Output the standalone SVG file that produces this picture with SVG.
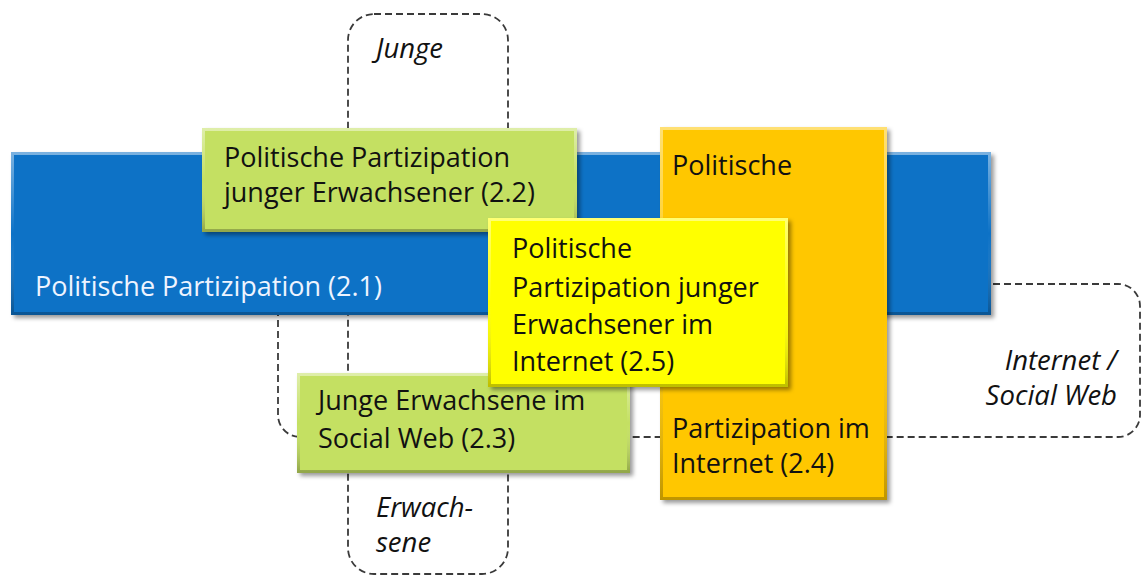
<svg xmlns="http://www.w3.org/2000/svg" width="1142" height="575" viewBox="0 0 1142 575">
  <style>
    .lbl { font-family: "Open Sans", "Liberation Sans", sans-serif; font-size: 27px; fill: #111111; }
    .wht { fill: #EEF4FF; }
    .ital { font-family: "Open Sans", "Liberation Sans", sans-serif; font-size: 27.5px; font-style: italic; fill: #111111; }
    .dash { fill: none; stroke: #3A3A3A; stroke-width: 1.8; stroke-dasharray: 7 4; }
    .bevel { fill: none; stroke: url(#bev); stroke-width: 3; }
  </style>
  <defs>
    <filter id="shadow" x="-5%" y="-5%" width="115%" height="120%">
      <feDropShadow dx="3" dy="3" stdDeviation="2" flood-color="#000000" flood-opacity="0.4"/>
    </filter>
    <linearGradient id="bev" x1="0" y1="0" x2="0" y2="1">
      <stop offset="0" stop-color="#FFFFFF" stop-opacity="0.45"/>
      <stop offset="0.5" stop-color="#FFFFFF" stop-opacity="0"/>
      <stop offset="1" stop-color="#000000" stop-opacity="0.25"/>
    </linearGradient>
  </defs>

  <g id="connectors">
    <rect id="frame-junge-erwachsene" class="dash" x="348" y="14" width="160" height="560" rx="26" ry="26"/>
    <rect id="frame-internet" class="dash" x="278" y="284" width="862" height="153" rx="22" ry="22"/>
  </g>

  <g id="label-junge">
    <text class="ital" x="376" y="58">Junge</text>
  </g>
  <g id="label-erwachsene">
    <text class="ital" x="376" y="517">Erwach-</text>
    <text class="ital" x="376" y="552">sene</text>
  </g>
  <g id="label-internet">
    <text class="ital" x="1117" y="370" text-anchor="end">Internet /</text>
    <text class="ital" x="1117" y="405" text-anchor="end">Social Web</text>
  </g>

  <g id="node-2-1">
    <rect x="11" y="152" width="980" height="163" fill="#0A72C6" filter="url(#shadow)"/>
    <rect class="bevel" x="12.5" y="153.5" width="977" height="160"/>
    <text class="lbl wht" x="35" y="296">Politische Partizipation (2.1)</text>
  </g>

  <g id="node-2-2">
    <rect x="202" y="128" width="375" height="104" fill="#C4E062" filter="url(#shadow)"/>
    <rect class="bevel" x="203.5" y="129.5" width="372" height="101"/>
    <text class="lbl" x="224" y="167">Politische Partizipation</text>
    <text class="lbl" x="224" y="202">junger Erwachsener (2.2)</text>
  </g>

  <g id="node-2-4">
    <rect x="660" y="127" width="227" height="373" fill="#FFC700" filter="url(#shadow)"/>
    <rect class="bevel" x="661.5" y="128.5" width="224" height="370"/>
    <text class="lbl" x="672" y="175">Politische</text>
    <text class="lbl" x="672" y="438">Partizipation im</text>
    <text class="lbl" x="672" y="473">Internet (2.4)</text>
  </g>

  <g id="node-2-3">
    <rect x="297" y="373" width="333" height="100" fill="#C4E062" filter="url(#shadow)"/>
    <rect class="bevel" x="298.5" y="374.5" width="330" height="97"/>
    <text class="lbl" x="318" y="410">Junge Erwachsene im</text>
    <text class="lbl" x="318" y="448">Social Web (2.3)</text>
  </g>

  <g id="node-2-5">
    <rect x="488" y="218" width="300" height="169" fill="#FFFF00" filter="url(#shadow)"/>
    <rect class="bevel" x="489.5" y="219.5" width="297" height="166"/>
    <text class="lbl" x="512" y="258">Politische</text>
    <text class="lbl" x="512" y="297">Partizipation junger</text>
    <text class="lbl" x="512" y="334">Erwachsener im</text>
    <text class="lbl" x="512" y="371">Internet (2.5)</text>
  </g>
</svg>
